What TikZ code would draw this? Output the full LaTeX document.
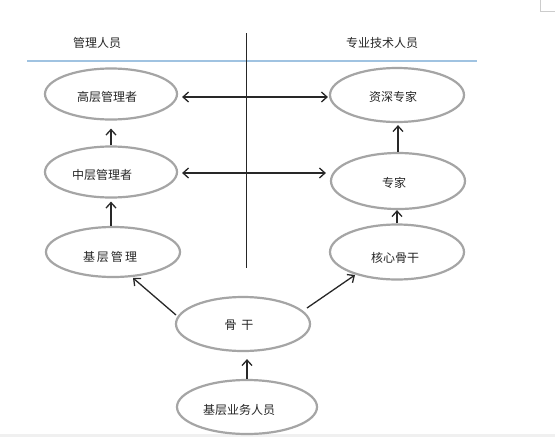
\documentclass[tikz,border=0pt]{standalone}
\usepackage{fontspec}
\setmainfont{Noto Sans CJK SC}
\usetikzlibrary{shapes.geometric,arrows.meta}
\definecolor{ellgray}{RGB}{165,165,165}
\definecolor{arrgray}{RGB}{40,40,40}
\definecolor{rulblue}{RGB}{160,195,225}
\tikzset{
  ell/.style={ellipse,draw=ellgray,line width=2.2pt,inner sep=0pt,fill=white},
  lbl/.style={font=\fontsize{12}{13}\selectfont,inner sep=0pt,text=black!85},
  arr/.style={draw=arrgray,line width=1.3pt,-{Straight Barb[length=5.5pt,width=10pt]}},
  biarr/.style={draw=arrgray,line width=1.3pt,{Straight Barb[length=5.5pt,width=10pt]}-{Straight Barb[length=5.5pt,width=10pt]}}
}
\begin{document}
\begin{tikzpicture}[x=1pt,y=-1pt]
\useasboundingbox (0,0) rectangle (555,437);
\fill[white] (0,0) rectangle (555,437);
\fill[gray!12] (0,434) rectangle (555,437);
\draw[gray!40,line width=0.6pt] (540,0) -- (540,11) -- (555,11);
% headers
\node[lbl] (h1) at (97,43) {管理人员};
\node[lbl] (h2) at (382,43) {专业技术人员};
\coordinate (bl) at (27,61);
\coordinate (br) at (477,61);
\draw[rulblue,line width=1.2pt] (bl) -- (br);
\coordinate (vt) at (246,33);
\coordinate (vb) at (246,268);
\draw[black!85,line width=0.9pt] (vt) -- (vb);
% ellipses
\node[ell,minimum width=132pt,minimum height=51pt] (gl1) at (111,94) {};
\node[ell,minimum width=132pt,minimum height=51pt] (gl2) at (111,172) {};
\node[ell,minimum width=134pt,minimum height=50pt] (gl3) at (113,252) {};
\node[ell,minimum width=134pt,minimum height=54pt] (rs1) at (397,95) {};
\node[ell,minimum width=134pt,minimum height=56pt] (rs2) at (398,181) {};
\node[ell,minimum width=134pt,minimum height=55pt] (rs3) at (397,252) {};
\node[ell,minimum width=134pt,minimum height=54pt] (gd) at (243,324) {};
\node[ell,minimum width=140pt,minimum height=54pt] (jc) at (247,407) {};
% labels
\node[lbl] at (107,97) {高层管理者};
\node[lbl] at (102,175) {中层管理者};
\node[lbl] at (110,257) {基\hspace{2pt}层\hspace{2pt}管\hspace{2pt}理};
\node[lbl] at (393,97) {资深专家};
\node[lbl] at (394,183) {专家};
\node[lbl] at (395,258) {核心骨干};
\node[lbl] at (239,325) {骨\hspace{5pt}干};
\node[lbl] at (239,410) {基层业务人员};
% connectors
\draw[arr,shorten >=8pt] (gl2.north) -- (gl2.north |- gl1.south);
\draw[arr,shorten >=3pt] (gl3.north -| gl2.south) -- (gl2.south);
\draw[arr,shorten >=2pt] (rs2.north) -- (rs2.north |- rs1.south);
\draw[arr] (rs3.north) -- (rs3.north |- rs2.south);
\draw[arr,shorten >=7pt] (jc.north) -- (jc.north |- gd.south);
\draw[arr] ([shift={(-67,-9)}]gd.center) -- ([shift={(20,26)}]gl3.center);
\draw[arr] ([shift={(64,-16)}]gd.center) -- ([shift={(-42,23)}]rs3.center);
\draw[biarr,shorten <=4pt,shorten >=1pt] ([yshift=-3pt]gl1.east) -- ([yshift=-3pt]gl1.east -| rs1.west);
\draw[biarr,shorten <=4pt,shorten >=4pt] ([yshift=-1pt]gl2.east) -- ([yshift=-1pt]gl2.east -| rs2.west);
\end{tikzpicture}
\end{document}
